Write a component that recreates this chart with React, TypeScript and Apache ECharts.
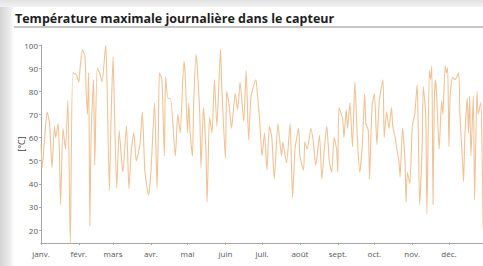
import React, { useEffect, useRef } from "react";
import * as echarts from "echarts";

const title = "Température maximale journalière dans le capteur";
const yAxisName = "[°C]";
const monthLabels = ["janv.", "févr.", "mars", "avr.", "mai", "juin", "juil.", "août", "sept.", "oct.", "nov.", "déc."];
const monthStartDays = [0, 31, 59, 90, 120, 151, 181, 212, 243, 273, 304, 334];
const yTicks = [20, 30, 40, 50, 60, 70, 80, 90, 100];

// day of year (0 = 1 janv.) and daily maximum temperature
const days = [
  0, 1, 3, 5, 7, 9, 11, 12, 14, 15, 16, 18, 20, 22, 24, 26, 29, 31, 32, 34, 36, 37, 38, 39, 40, 41, 43, 44, 46, 48, 50, 53, 54, 56, 57, 59, 60, 62, 64, 66, 67, 70, 72, 74, 76, 78, 81, 83, 85, 88, 90, 93, 95, 96, 97, 99, 101, 102, 104, 106, 110, 112, 114, 117, 118, 120, 121,
  122, 124, 125, 127, 128, 130, 131, 133, 135, 136, 138, 140, 142, 144, 147, 148, 151, 152, 154, 156, 159, 161, 163, 166, 168, 170, 172, 176, 177, 179, 181, 183, 185, 187, 189, 191, 194, 197, 198, 201, 204, 205, 206, 208, 211, 212, 215, 216, 218, 221, 223, 225, 228, 230, 232, 234, 236, 238, 240,
  242, 243, 244, 247, 248, 250, 251, 253, 255, 257, 259, 261, 263, 265, 266, 268, 269, 271, 273, 275, 277, 280, 281, 283, 285, 287, 288, 290, 291, 293, 294, 296, 298, 299, 300, 302, 304, 306, 308, 309, 310, 312, 313, 315, 316, 318, 319, 320, 321, 322, 323, 324, 326, 328, 329, 331, 332, 333, 334, 335, 337, 339, 342, 343, 345, 346, 347, 349, 350, 351, 352, 354, 355, 357, 358, 360, 361, 362,
];
const tempMax = [
  57, 47, 60, 71, 66, 47, 65, 60, 66, 55, 31, 64, 55, 76, 14, 88, 87, 84, 90, 98, 95, 80, 70, 88, 22, 60, 85, 48, 90, 88, 84, 100, 85, 37, 60, 95, 75, 38, 63, 50, 45, 65, 38, 55, 62, 50, 57, 71, 46, 35, 45, 75, 38, 60, 88, 85, 52, 86, 77, 77, 52, 70, 62, 93, 88, 62, 75,
  63, 52, 75, 96, 90, 70, 47, 73, 55, 32, 69, 62, 85, 65, 98, 82, 51, 80, 74, 64, 79, 72, 84, 67, 89, 59, 78, 85, 80, 68, 52, 62, 46, 65, 60, 42, 66, 52, 58, 49, 66, 50, 34, 55, 64, 52, 46, 58, 55, 64, 58, 48, 61, 42, 55, 65, 50, 45, 60,
  55, 45, 73, 68, 60, 72, 64, 75, 56, 84, 60, 45, 56, 79, 66, 63, 42, 73, 79, 57, 76, 85, 60, 71, 64, 73, 65, 60, 56, 50, 43, 64, 50, 32, 45, 40, 65, 70, 83, 60, 31, 55, 82, 70, 27, 89, 85, 91, 31, 75, 85, 78, 55, 76, 70, 91, 88, 90, 56, 78, 86, 85, 88, 70, 51, 41, 60, 77, 62, 78, 52, 78, 33, 80, 70, 75, 60, 21,
];

export default function App() {
  const ref = useRef<HTMLDivElement>(null);
  useEffect(() => {
    if (!ref.current) return;
    const chart = echarts.init(ref.current, null, { renderer: "svg" });
    const data = days.map((d, i) => [d, tempMax[i]]);
    chart.setOption({
      animation: false,
      backgroundColor: "#ffffff",
      textStyle: { fontFamily: "Open Sans" },
      graphic: [
        {
          type: "rect",
          shape: { x: 0, y: 0, width: 14, height: 266 },
          style: {
            fill: new echarts.graphic.LinearGradient(0, 0, 1, 0, [
              { offset: 0, color: "#d4d4d4" },
              { offset: 0.7, color: "#ebebeb" },
              { offset: 1, color: "#ffffff" },
            ]),
          },
          silent: true,
        },
        {
          type: "rect",
          shape: { x: 0, y: 0, width: 483, height: 7 },
          style: {
            fill: new echarts.graphic.LinearGradient(0, 0, 0, 1, [
              { offset: 0, color: "#e2e2e2" },
              { offset: 1, color: "#f2f2f2" },
            ]),
          },
          silent: true,
        },
        {
          type: "rect",
          shape: { x: 14, y: 26, width: 470, height: 2 },
          style: { fill: "#c6c6c6" },
          silent: true,
        },
        {
          type: "text",
          x: 15,
          y: 18,
          style: {
            text: title,
            fill: "#1e1e1e",
            font: "bold 12.5px 'Open Sans'",
            textVerticalAlign: "middle",
          },
          silent: true,
        },
      ],
      grid: { left: 41, right: -5, top: 45, bottom: 23, outerBoundsMode: "none" },
      xAxis: {
        type: "value",
        min: 0,
        max: 366,
        axisLine: { show: true, lineStyle: { color: "#a8a8a8", width: 1 } },
        axisTick: { show: true, length: 2, customValues: monthStartDays, lineStyle: { color: "#a8a8a8" } },
        splitLine: { show: false },
        axisLabel: {
          customValues: monthStartDays,
          formatter: (v: number) => monthLabels[monthStartDays.indexOf(Math.round(v))] ?? "",
          fontSize: 8,
          color: "#555",
          margin: 6,
          fontFamily: "Open Sans",
        },
      },
      yAxis: {
        type: "value",
        min: 14.4,
        max: 100,
        name: yAxisName,
        nameLocation: "middle",
        nameRotate: 90,
        nameGap: 15,
        nameMoveOverlap: false,
        nameTextStyle: { fontSize: 9, color: "#444", fontFamily: "Open Sans" },
        axisLine: { show: true, lineStyle: { color: "#a8a8a8", width: 1 } },
        axisTick: { show: true, length: 2, customValues: yTicks, lineStyle: { color: "#a8a8a8" } },
        splitLine: { show: false },
        axisLabel: {
          customValues: yTicks,
          fontSize: 8,
          color: "#555",
          margin: 3,
          fontFamily: "Open Sans",
        },
      },
      series: [
        {
          type: "line",
          data,
          showSymbol: false,
          symbol: "none",
          smooth: 0.2,
          lineStyle: { color: "#f0c295", width: 1.1 },
          clip: true,
        },
      ],
    });
    return () => chart.dispose();
  }, []);
  return (
    <div
      ref={ref}
      style={{ position: "absolute", left: 0, top: 0, width: 483, height: 266 }}
    />
  );
}
